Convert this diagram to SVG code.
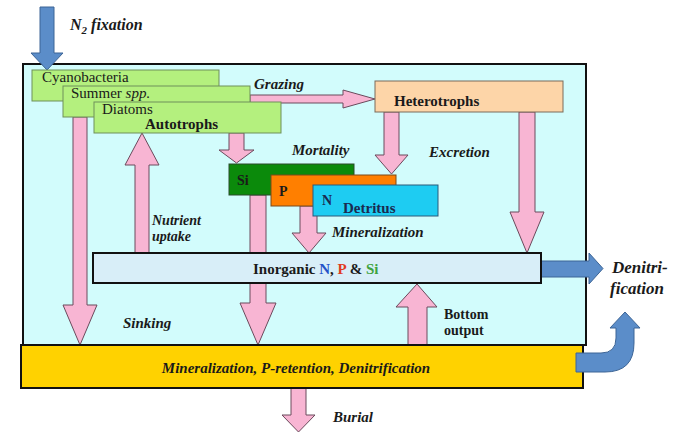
<svg xmlns="http://www.w3.org/2000/svg" width="688" height="433" viewBox="0 0 688 433">
<style>
text{font-family:'Liberation Serif','DejaVu Serif',serif;fill:#1a1a1a}
.lbl{font-size:15px;font-weight:bold;font-style:italic}
.b{font-weight:bold}
.pink{fill:#F8B5D3;stroke:#6b4a5c;stroke-width:1}
.blue{fill:#5B8DC9;stroke:#3d6596;stroke-width:1}
.green{fill:#B4F07E;stroke:#6f8f5a;stroke-width:1}
</style>
<rect x="0" y="0" width="688" height="433" fill="#ffffff"/>
<g id="system">
<rect x="23" y="64" width="563" height="281" fill="#D2FCFC" stroke="#111" stroke-width="2"/>
</g>
<g id="connectors">
<polygon class="pink" points="73,117 87,117 87,305 97,305 80,345 63,305 73,305"/>
<polygon class="pink" points="229,133 244,133 244,150 254,150 236.5,163 219,150 229,150"/>
<polygon class="pink" points="250,195 266,195 266,303 276,303 258,345 240,303 250,303"/>
<polygon class="pink" points="300,206 317,206 317,233 326,233 309,253 292,233 300,233"/>
<polygon class="pink" points="384,112 399,112 399,155 408,155 391.5,174 375,155 384,155"/>
<polygon class="pink" points="519,112 535,112 535,212 544,212 527,253 510,212 519,212"/>
<polygon class="pink" points="135,253 149,253 149,165 159,165 142,133 125,165 135,165"/>
<polygon class="pink" points="408,345 427,345 427,307 437,307 417,284 396,307 408,307"/>
<polygon class="pink" points="291,388 306,388 306,415 315,415 298.5,432 282,415 291,415"/>
<polygon class="pink" points="250,95 343,95 343,90 375,99 343,108 343,103 250,103"/>
<polygon class="blue" points="40,7 54,7 54,53 63,53 47,70 31,53 40,53"/>
<polygon class="blue" points="541,261 589,261 589,253 603,268.5 589,284 589,277 541,277"/>
</g>
<g id="sediment">
<rect x="21" y="345" width="562" height="43" fill="#FFD200" stroke="#111" stroke-width="2"/>
<text x="296" y="373" class="lbl" text-anchor="middle">Mineralization, P-retention, Denitrification</text>
</g>
<g id="sediment-denitrification">
<path class="blue" d="M576,353 L601,353 Q616,353 616,338 L616,328 L610,328 L625,312 L640,328 L634,328 L634,343 Q634,372 605,372 L576,372 Z"/>
</g>
<g id="cyanobacteria">
<rect class="green" x="32" y="70" width="187" height="31"/>
<text x="42" y="82" font-size="15">Cyanobacteria</text>
</g>
<g id="summer">
<rect class="green" x="63" y="86" width="187" height="31"/>
<text x="71" y="98" font-size="15">Summer <tspan font-style="italic">spp.</tspan></text>
</g>
<g id="diatoms">
<rect class="green" x="94" y="102" width="187" height="31"/>
<text x="102" y="114" font-size="15">Diatoms</text>
<text x="145" y="129" font-size="15" class="b">Autotrophs</text>
</g>
<g id="heterotrophs">
<rect x="375" y="81" width="188" height="31" fill="#FDD5A8" stroke="#7a6a5a" stroke-width="1"/>
<text x="394" y="106" font-size="15" class="b">Heterotrophs</text>
</g>
<g id="detritus-si">
<rect x="229" y="164" width="125" height="31" fill="#0B8A0B" stroke="#2a4a2a" stroke-width="1"/>
<text x="237" y="185" font-size="14" class="b">Si</text>
</g>
<g id="detritus-p">
<rect x="271" y="175" width="125" height="31" fill="#FF7F00" stroke="#7a4a1a" stroke-width="1"/>
<text x="279" y="196" font-size="14" class="b">P</text>
</g>
<g id="detritus-n">
<rect x="313" y="185" width="125" height="31" fill="#1ECCF2" stroke="#2a5a7a" stroke-width="1"/>
<text x="322" y="205" font-size="14" class="b" style="fill:#1a2a50">N</text>
<text x="343" y="213" font-size="15" class="b" style="fill:#1a2a50">Detritus</text>
</g>
<g id="inorganic">
<rect x="93" y="253" width="448" height="30" fill="#D8EEF8" stroke="#111" stroke-width="2"/>
<text x="253" y="274" font-size="15" class="b">Inorganic <tspan style="fill:#2452C8">N</tspan>, <tspan style="fill:#E03A22">P</tspan> &amp; <tspan style="fill:#3FA33F">Si</tspan></text>
</g>
<g id="labels">
<text x="70" y="30" font-size="16" class="b" font-style="italic">N<tspan font-size="11" dy="4">2</tspan><tspan dy="-4"> fixation</tspan></text>
<text x="254" y="89" class="lbl">Grazing</text>
<text x="292" y="155" class="lbl">Mortality</text>
<text x="429" y="157" class="lbl">Excretion</text>
<text x="152" y="225" class="lbl" style="font-size:14px">Nutrient</text>
<text x="152" y="241" class="lbl" style="font-size:14px">uptake</text>
<text x="332" y="237" class="lbl">Mineralization</text>
<text x="123" y="328" class="lbl">Sinking</text>
<text x="444" y="319" font-size="14" class="b">Bottom</text>
<text x="444" y="335" font-size="14" class="b">output</text>
<text x="612" y="273" font-size="17" class="b" font-style="italic">Denitri-</text>
<text x="610" y="294" font-size="17" class="b" font-style="italic">fication</text>
<text x="333" y="422" class="lbl">Burial</text>
</g>
</svg>
